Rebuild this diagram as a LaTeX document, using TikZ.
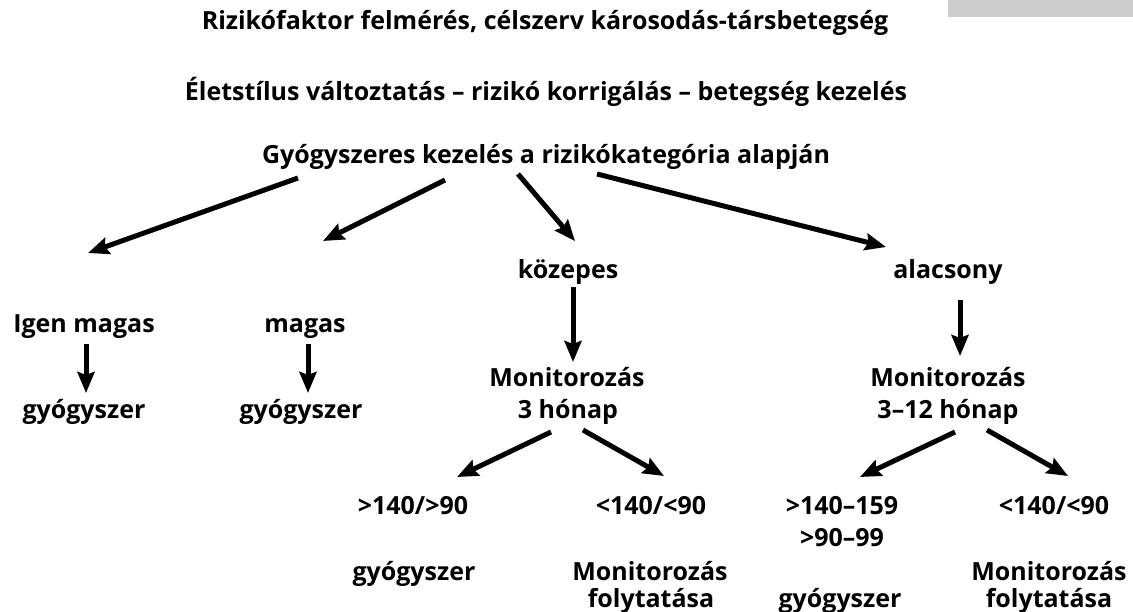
\documentclass[tikz,border=0pt]{standalone}
\usepackage{fontspec}
\setmainfont{Open Sans}
\usetikzlibrary{arrows.meta}
\definecolor{bargrey}{HTML}{CCCCCC}
\begin{document}
\begin{tikzpicture}[x=1pt,y=-1pt,
  lbl/.style={font=\fontsize{25}{30}\selectfont\bfseries, inner sep=0pt, anchor=base},
  arr/.style={line width=5pt, -{Stealth[length=21pt,width=17pt,inset=3pt]}}]
\useasboundingbox (0,0) rectangle (1133,612);
\fill[bargrey] (948,0) rectangle (1133,17.5);
% titles
\node[lbl] (t1) at (545,30) {Rizikófaktor felmérés, célszerv károsodás-társbetegség};
\node[lbl] (t2) at (546,101) {Életstílus változtatás – rizikó korrigálás – betegség kezelés};
\node[lbl] (t3) at (546,164) {Gyógyszeres kezelés a rizikókategória alapján};
% categories
\node[lbl] (igen) at (84,333) {Igen magas};
\node[lbl] (mag) at (305,333) {magas};
\node[lbl] (koz) at (568,279) {közepes};
\node[lbl] (ala) at (948,279) {alacsony};
\node[lbl] (gy1) at (84,418) {gyógyszer};
\node[lbl] (gy2) at (301,418) {gyógyszer};
\node[lbl] (km1) at (567,386) {Monitorozás};
\node[lbl] (km2) at (568,418) {3 hónap};
\node[lbl] (am1) at (948,386) {Monitorozás};
\node[lbl] (am2) at (948,418) {3–12 hónap};
% bottom rows
\node[lbl] (kh) at (413,514) {>140/>90};
\node[lbl] (kl) at (651,514) {<140/<90};
\node[lbl] (ah1) at (842,514) {>140–159};
\node[lbl] (ah2) at (842,546) {>90–99};
\node[lbl] (al) at (1054,514) {<140/<90};
\node[lbl] (gy3) at (414,580) {gyógyszer};
\node[lbl] (kf1) at (650,580) {Monitorozás};
\node[lbl] (kf2) at (651,607) {folytatása};
\node[lbl] (gy4) at (840,607) {gyógyszer};
\node[lbl] (af1) at (1049,580) {Monitorozás};
\node[lbl] (af2) at (1049,607) {folytatása};
% arrow end points
\coordinate (a1s) at (298,178); \coordinate (a1e) at (88,253);
\coordinate (a2s) at (445,180); \coordinate (a2e) at (323,241);
\coordinate (a3s) at (518,174); \coordinate (a3e) at (575,241);
\coordinate (a4s) at (597,174); \coordinate (a4e) at (886,247);
\coordinate (v1s) at (86,344);  \coordinate (v1e) at (86,393);
\coordinate (v2s) at (308,344); \coordinate (v2e) at (308,393);
\coordinate (v3s) at (573,287); \coordinate (v3e) at (573,362);
\coordinate (v4s) at (960,300); \coordinate (v4e) at (960,356);
\coordinate (b1s) at (551,432); \coordinate (b1e) at (457,477);
\coordinate (b2s) at (583,430); \coordinate (b2e) at (664,476);
\coordinate (b3s) at (955,432); \coordinate (b3e) at (860,477);
\coordinate (b4s) at (987,430); \coordinate (b4e) at (1068,476);
\foreach \a in {a1,a2,a3,a4,v1,v2,v3,v4,b1,b2,b3,b4}
  \draw[arr] (\a s) -- (\a e);
\end{tikzpicture}
\end{document}
